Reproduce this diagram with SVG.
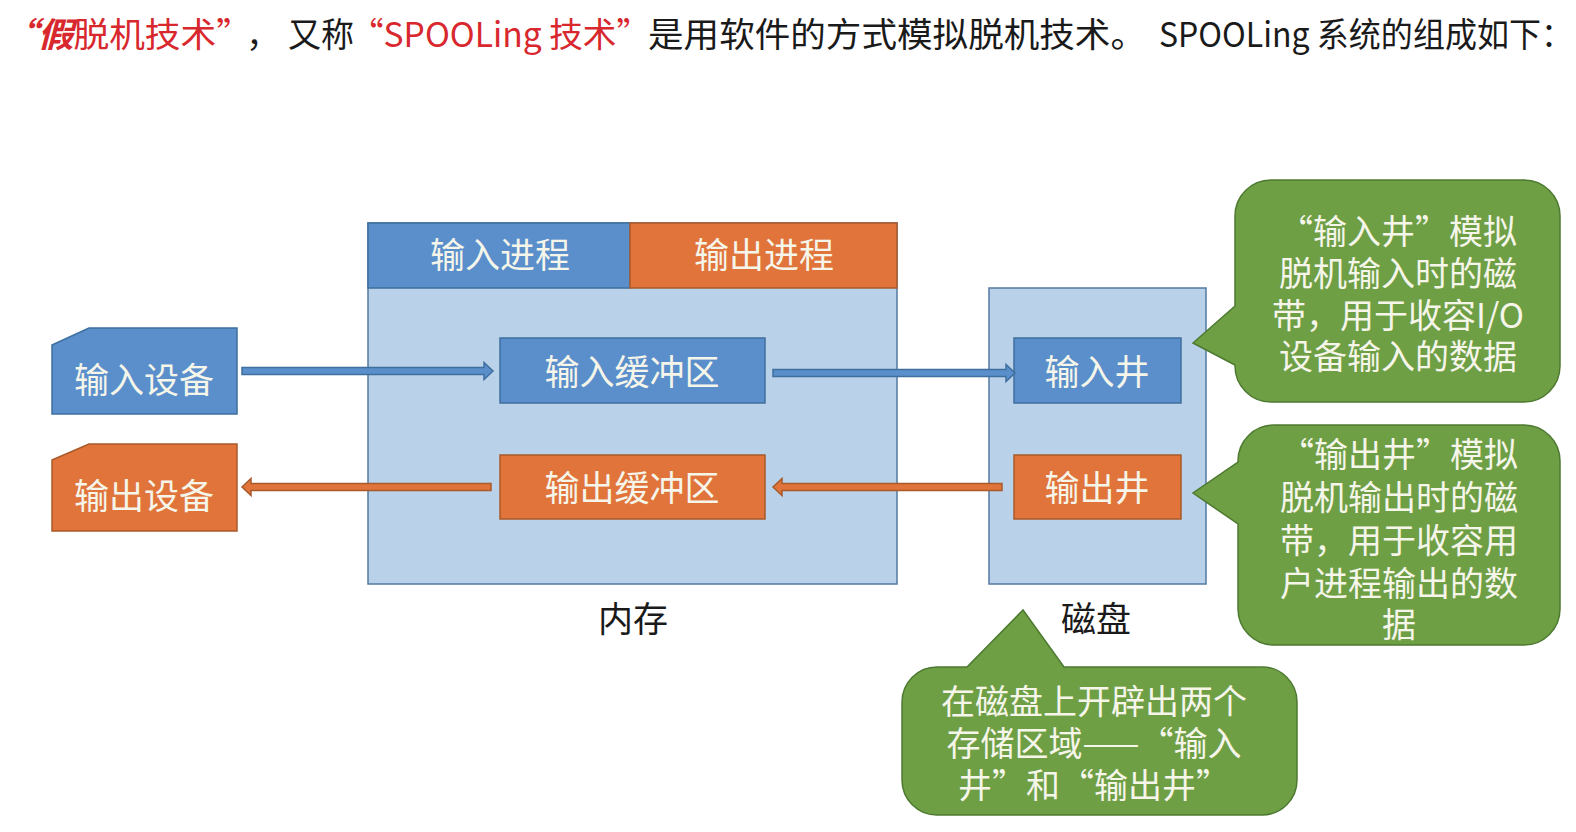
<svg xmlns="http://www.w3.org/2000/svg" width="1576" height="832" viewBox="0 0 1576 832">
<style>
text{font-family:"Noto Sans CJK SC","Noto Sans",sans-serif;}
.t{font-size:34px;}
.red{fill:#D8282E;}
.blk{fill:#1a1a1a;}
.lbl{font-size:35px;fill:#F5F5EA;text-anchor:middle;dominant-baseline:central;}
.cap{font-size:35px;fill:#1a1a1a;text-anchor:middle;dominant-baseline:central;}
.bl{fill:#5A8FCB;stroke:#3F6F9F;stroke-width:1.5;}
.or{fill:#E0743B;stroke:#A95A2B;stroke-width:1.5;}
.lb{fill:#B9D1E9;stroke:#5379A3;stroke-width:1.5;}
.gr{fill:#6E9F45;stroke:#4D7A30;stroke-width:1.5;}
.ct{font-size:34px;fill:#F5F5EA;text-anchor:middle;dominant-baseline:central;}
</style>

<g id="title">
<text class="t red" x="2" y="47" textLength="250" lengthAdjust="spacingAndGlyphs"><tspan font-weight="bold" font-style="italic">“假</tspan>脱机技术”</text>
<text class="t blk" x="246" y="47">，</text>
<text class="t blk" x="288" y="47" textLength="66" lengthAdjust="spacingAndGlyphs">又称</text>
<text class="t red" x="350" y="47" textLength="300" lengthAdjust="spacingAndGlyphs">“SPOOLing 技术”</text>
<text class="t blk" x="648" y="47" textLength="498" lengthAdjust="spacingAndGlyphs">是用软件的方式模拟脱机技术。</text>
<text class="t blk" x="1159" y="47" textLength="414" lengthAdjust="spacingAndGlyphs">SPOOLing 系统的组成如下：</text>
</g>

<g id="memory">
<rect class="lb" x="368" y="223" width="529" height="361"/>
<text class="cap" x="633" y="616">内存</text>
</g>
<g id="input-process">
<rect class="bl" x="368" y="223" width="262" height="65"/>
<text class="lbl" x="500" y="252">输入进程</text>
</g>
<g id="output-process">
<rect class="or" x="630" y="223" width="267" height="65"/>
<text class="lbl" x="764" y="252">输出进程</text>
</g>

<g id="disk">
<rect class="lb" x="989" y="288" width="217" height="296"/>
<text class="cap" x="1096" y="616">磁盘</text>
</g>

<g id="input-device">
<polygon class="bl" points="52,345 89,328 237,328 237,414 52,414"/>
<text class="lbl" x="144" y="377">输入设备</text>
</g>
<g id="output-device">
<polygon class="or" points="52,460 89,444 237,444 237,531 52,531"/>
<text class="lbl" x="144" y="493">输出设备</text>
</g>

<g id="input-buffer">
<rect class="bl" x="500" y="338" width="265" height="65"/>
<text class="lbl" x="632" y="369">输入缓冲区</text>
</g>
<g id="output-buffer">
<rect class="or" x="500" y="455" width="265" height="64"/>
<text class="lbl" x="632" y="485">输出缓冲区</text>
</g>

<g id="input-well">
<rect class="bl" x="1014" y="338" width="167" height="65"/>
<text class="lbl" x="1097" y="369">输入井</text>
</g>
<g id="output-well">
<rect class="or" x="1014" y="455" width="167" height="64"/>
<text class="lbl" x="1097" y="485">输出井</text>
</g>

<g id="connectors">
<polygon class="bl" points="242,367.5 484,367.5 484,362.5 493,371 484,379.5 484,374.5 242,374.5"/>
<polygon class="bl" points="773,369.5 1006,369.5 1006,364.5 1015,373 1006,381.5 1006,376.5 773,376.5"/>
<polygon class="or" points="491,483.5 251,483.5 251,478.5 242,487 251,495.5 251,490.5 491,490.5"/>
<polygon class="or" points="1002,483.5 782,483.5 782,478.5 773,487 782,495.5 782,490.5 1002,490.5"/>
</g>

<g id="callout-input-well">
<path class="gr" d="M1271,180 H1524 A36 36 0 0 1 1560,216 V366 A36 36 0 0 1 1524,402 H1271 A36 36 0 0 1 1235,366 V365 L1193,343 L1235,306 V216 A36 36 0 0 1 1271,180 Z"/>
<text class="ct" x="1398" y="229">“输入井”模拟</text>
<text class="ct" x="1398" y="271">脱机输入时的磁</text>
<text class="ct" x="1398" y="313">带，用于收容I/O</text>
<text class="ct" x="1398" y="354">设备输入的数据</text>
</g>

<g id="callout-output-well">
<path class="gr" d="M1274,425 H1524 A36 36 0 0 1 1560,461 V609 A36 36 0 0 1 1524,645 H1274 A36 36 0 0 1 1238,609 V524 L1193,493 L1238,462 V461 A36 36 0 0 1 1274,425 Z"/>
<text class="ct" x="1399" y="452">“输出井”模拟</text>
<text class="ct" x="1399" y="495">脱机输出时的磁</text>
<text class="ct" x="1399" y="538">带，用于收容用</text>
<text class="ct" x="1399" y="581">户进程输出的数</text>
<text class="ct" x="1399" y="622">据</text>
</g>

<g id="callout-disk">
<path class="gr" d="M937,667 H967 L1023,610 L1064,667 H1262 A35 35 0 0 1 1297,702 V780 A35 35 0 0 1 1262,815 H937 A35 35 0 0 1 902,780 V702 A35 35 0 0 1 937,667 Z"/>
<text class="ct" x="1094" y="699">在磁盘上开辟出两个</text>
<text class="ct" x="1094" y="741">存储区域——“输入</text>
<text class="ct" x="1094" y="783">井”和“输出井”</text>
</g>
</svg>
